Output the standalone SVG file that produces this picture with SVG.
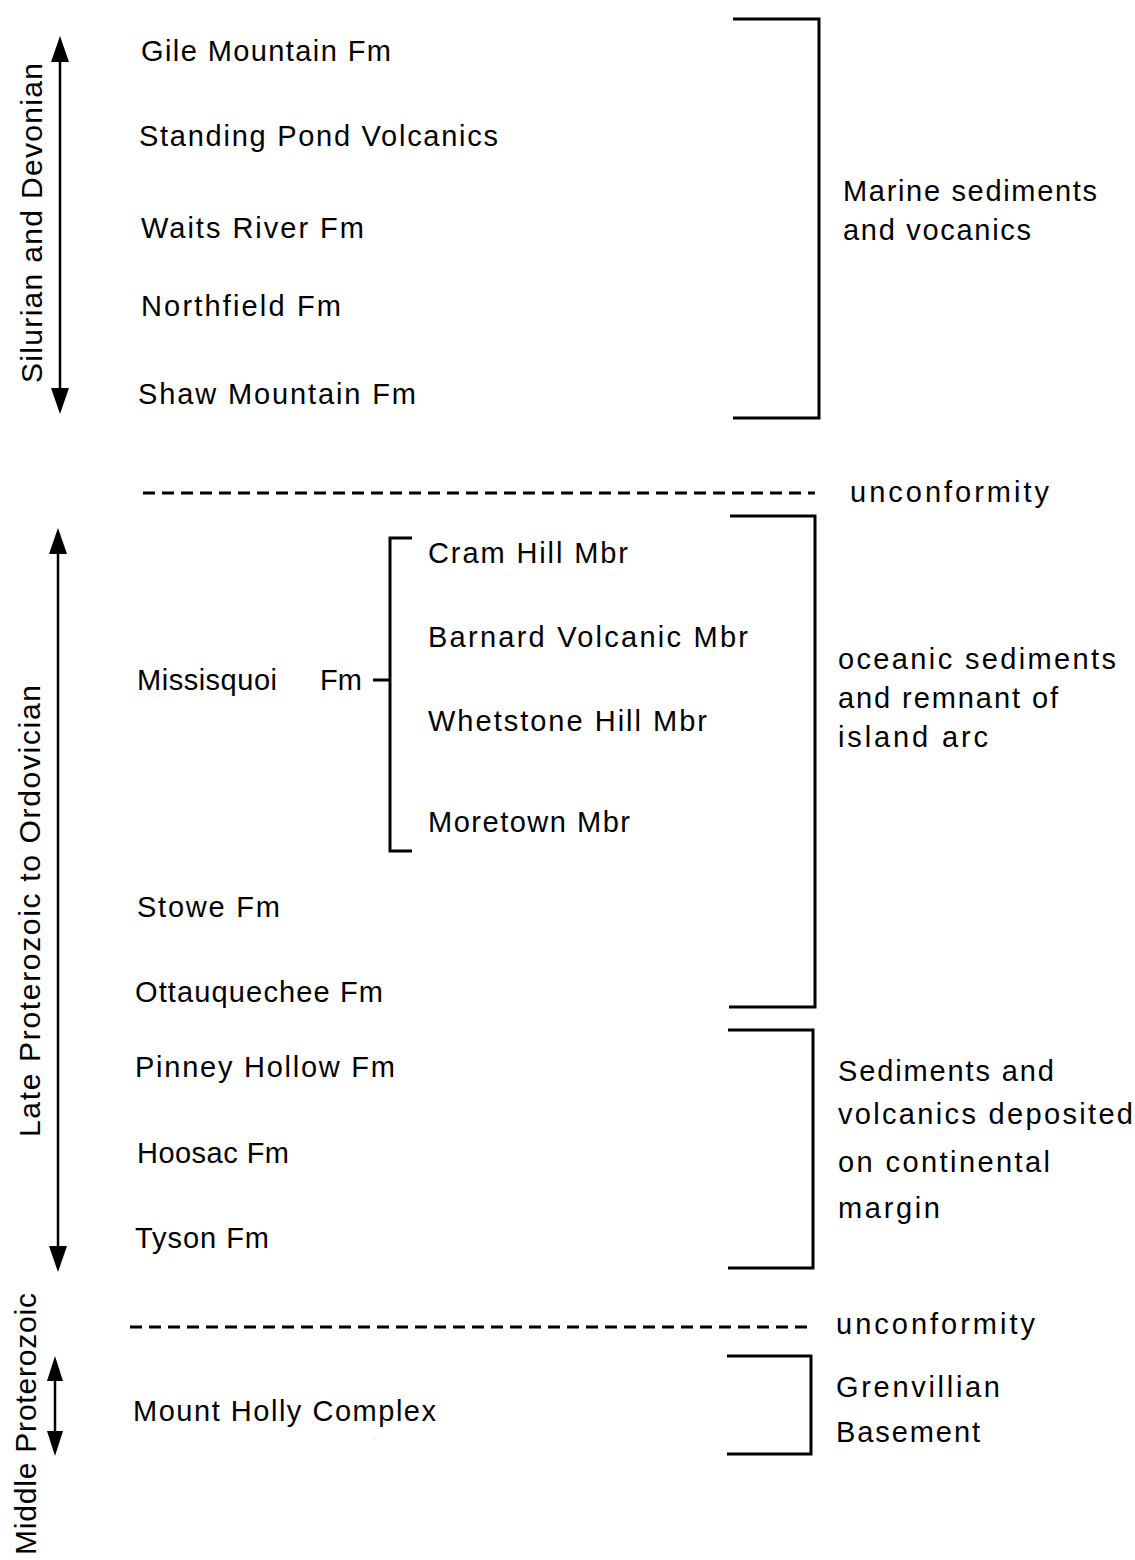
<svg xmlns="http://www.w3.org/2000/svg" width="1135" height="1560" viewBox="0 0 1135 1560">
<style>
text{font-family:"Liberation Sans",Arial,Helvetica,sans-serif;font-size:29px;fill:#000}
.rot{font-size:30px}
.br{fill:none;stroke:#000;stroke-width:3}
.ax{stroke:#000;stroke-width:2.5}
.dash{stroke:#000;stroke-width:3;stroke-dasharray:12 7}
</style>
<rect width="1135" height="1560" fill="#fff"/>

<g id="connectors">
<line class="ax" x1="60" y1="62" x2="60" y2="390"/>
<path d="M60,36 L51,62 L69,62 Z"/>
<path d="M60,414 L51,388 L69,388 Z"/>
<line class="ax" x1="58" y1="554" x2="58" y2="1246"/>
<path d="M58,528 L49,554 L67,554 Z"/>
<path d="M58,1272 L49,1246 L67,1246 Z"/>
<line class="ax" x1="55" y1="1380" x2="55" y2="1432"/>
<path d="M55,1356 L47,1381 L63,1381 Z"/>
<path d="M55,1456 L47,1431 L63,1431 Z"/>
<line class="dash" x1="143" y1="493" x2="815" y2="493"/>
<line class="dash" x1="130" y1="1327" x2="808" y2="1327"/>
<path class="br" d="M733,19 H819 V418 H733"/>
<path class="br" d="M730,516 H815 V1007 H729"/>
<path class="br" d="M728,1030 H813 V1268 H728"/>
<path class="br" d="M727,1356 H811 V1454 H727"/>
<path class="br" d="M412,538 H390 V851 H412"/>
<line class="br" x1="373" y1="680" x2="390" y2="680"/>
</g>

<g id="periods">
<text class="rot" transform="translate(42,383) rotate(-90)" textLength="320" lengthAdjust="spacing">Silurian and Devonian</text>
<text class="rot" transform="translate(40,1137) rotate(-90)" textLength="452" lengthAdjust="spacing">Late Proterozoic to Ordovician</text>
<text class="rot" transform="translate(36,1555) rotate(-90)" textLength="262" lengthAdjust="spacing">Middle Proterozoic</text>
</g>

<g id="formations">
<text x="141" y="61" textLength="250" lengthAdjust="spacing">Gile Mountain Fm</text>
<text x="139" y="146" textLength="359" lengthAdjust="spacing">Standing Pond Volcanics</text>
<text x="141" y="238" textLength="223" lengthAdjust="spacing">Waits River Fm</text>
<text x="141" y="316" textLength="200" lengthAdjust="spacing">Northfield  Fm</text>
<text x="138" y="404" textLength="278" lengthAdjust="spacing">Shaw  Mountain Fm</text>
<text x="137" y="690" textLength="140" lengthAdjust="spacing">Missisquoi</text>
<text x="320" y="690">Fm</text>
<text x="428" y="563" textLength="200" lengthAdjust="spacing">Cram Hill Mbr</text>
<text x="428" y="647" textLength="320" lengthAdjust="spacing">Barnard  Volcanic Mbr</text>
<text x="428" y="731" textLength="279" lengthAdjust="spacing">Whetstone Hill Mbr</text>
<text x="428" y="832" textLength="202" lengthAdjust="spacing">Moretown Mbr</text>
<text x="137" y="917" textLength="143" lengthAdjust="spacing">Stowe Fm</text>
<text x="135" y="1002" textLength="248" lengthAdjust="spacing">Ottauquechee Fm</text>
<text x="135" y="1077" textLength="260" lengthAdjust="spacing">Pinney Hollow Fm</text>
<text x="137" y="1163" textLength="152" lengthAdjust="spacing">Hoosac Fm</text>
<text x="135" y="1248" textLength="134" lengthAdjust="spacing">Tyson Fm</text>
<text x="133" y="1421" textLength="303" lengthAdjust="spacing">Mount Holly Complex</text>
</g>

<g id="descriptions">
<text x="843" y="201" textLength="254" lengthAdjust="spacing">Marine sediments</text>
<text x="843" y="240" textLength="188" lengthAdjust="spacing">and vocanics</text>
<text x="850" y="502" textLength="199" lengthAdjust="spacing">unconformity</text>
<text x="838" y="669" textLength="278" lengthAdjust="spacing">oceanic sediments</text>
<text x="838" y="708" textLength="220" lengthAdjust="spacing">and remnant of</text>
<text x="838" y="747" textLength="150" lengthAdjust="spacing">island arc</text>
<text x="838" y="1081" textLength="216" lengthAdjust="spacing">Sediments and</text>
<text x="838" y="1124" textLength="295" lengthAdjust="spacing">volcanics deposited</text>
<text x="838" y="1172" textLength="212" lengthAdjust="spacing">on continental</text>
<text x="838" y="1218" textLength="102" lengthAdjust="spacing">margin</text>
<text x="836" y="1334" textLength="199" lengthAdjust="spacing">unconformity</text>
<text x="836" y="1397" textLength="164" lengthAdjust="spacing">Grenvillian</text>
<text x="836" y="1442" textLength="144" lengthAdjust="spacing">Basement</text>
</g>
</svg>
